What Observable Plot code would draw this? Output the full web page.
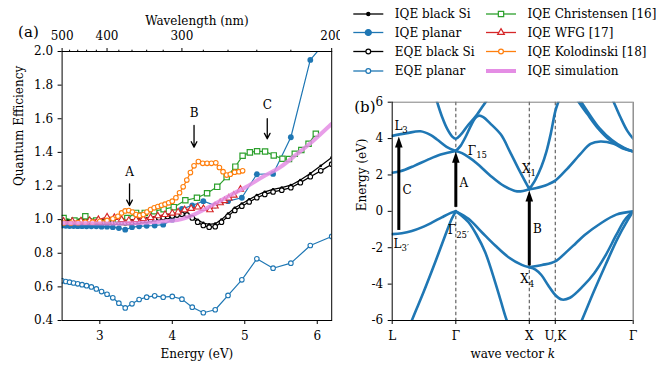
<!DOCTYPE html>
<html><head><meta charset="utf-8">
<script src="https://cdn.jsdelivr.net/npm/d3@7"></script>
<script src="https://cdn.jsdelivr.net/npm/@observablehq/plot@0.6"></script>
<style>
body{margin:0;background:#fff;}
#fig{position:relative;width:656px;height:371px;overflow:hidden;font-family:"DejaVu Serif",serif;background:#fff;}
#pa{position:absolute;left:0;top:0;width:340px;height:371px;}
#pb{position:absolute;left:340px;top:0;width:316px;height:371px;}
#legend{position:absolute;left:340px;top:0;width:316px;height:85px;}
</style></head>
<body><div id="fig"><div id="pa"></div><div id="pb"></div><div id="legend"></div></div>
<script>
const hc = 1239.84;

// ---------------- Panel (a) data ----------------
const lambda10 = [500,490,480,470,460,450,440,430,420,410,400,390,380,370,360,350,340,330,320,310,300,290,280,270,260,250,240,230,220,210,200];
const iqePlanar = [0.965,0.963,0.962,0.962,0.961,0.961,0.960,0.960,0.960,0.958,0.958,0.955,0.950,0.940,0.955,0.960,0.963,0.965,0.970,1.000,1.064,1.084,1.110,1.084,1.110,1.130,1.270,1.272,1.490,1.950,2.100];
const eqePlanar = [0.636,0.632,0.628,0.623,0.618,0.613,0.607,0.600,0.588,0.572,0.556,0.535,0.503,0.475,0.499,0.525,0.539,0.547,0.539,0.543,0.527,0.479,0.446,0.464,0.549,0.642,0.767,0.711,0.741,0.846,0.900];

const lambda5 = [500,495,490,485,480,475,470,465,460,455,450,445,440,435,430,425,420,415,410,405,400,395,390,385,380,375,370,365,360,355,350,345,340,335,330,325,320,315,310,305,300,295,290,285,280,275,270,265,260,255,250,245,240,235,230,225,220,215,210,205,200];
const iqeBlackSi = [0.995,0.995,0.995,0.995,0.995,0.995,0.995,0.995,0.995,0.995,0.995,0.995,0.995,0.995,0.995,0.995,0.995,0.995,0.995,0.995,0.995,0.995,0.995,0.995,
  0.994,0.993,0.992,0.993,0.995,0.997,1.0,1.003,1.006,1.01,1.014,1.018,1.022,1.026,1.03,1.035,1.04,1.036,1.02,0.998,0.98,0.972,0.976,1.0,1.035,1.07,1.095,1.12,1.145,1.165,1.18,1.19,1.205,1.235,1.275,1.32,1.37];
const eqeBlackSi = [0.986,0.986,0.986,0.985,0.985,0.985,0.985,0.985,0.985,0.985,0.985,0.985,0.985,0.985,0.985,0.985,0.985,0.985,0.985,0.985,0.985,0.985,0.985,0.985,
  0.985,0.983,0.982,0.983,0.985,0.987,0.99,0.993,0.996,1.0,1.004,1.009,1.013,1.018,1.022,1.027,1.032,1.028,1.01,0.985,0.965,0.955,0.958,0.985,1.02,1.055,1.08,1.105,1.13,1.15,1.165,1.175,1.19,1.22,1.255,1.29,1.33];

const christensenE = [2.50,2.65,2.80,2.95,3.10,3.25,3.38,3.50,3.62,3.75,3.88,4.02,4.18,4.34,4.48,4.62,4.75,4.87,4.97,5.07,5.17,5.28,5.40,5.52,5.61,5.69,5.78,5.88,5.98];
const christensenQE = [1.01,0.995,1.02,0.995,0.995,1.0,1.01,1.04,1.04,1.05,1.062,1.074,1.115,1.13,1.157,1.195,1.253,1.315,1.38,1.40,1.407,1.405,1.382,1.362,1.36,1.392,1.414,1.451,1.511];

const wfgE = [2.50,2.62,2.74,2.86,2.98,3.10,3.20,3.30,3.40,3.50,3.60,3.70,3.80,3.90,4.00,4.08,4.17,4.26,4.35,4.43,4.52,4.59,4.66,4.72,4.78,4.85,4.94];
const wfgQE = [0.99,0.99,0.992,0.995,1.0,1.015,1.012,1.0,0.995,1.0,1.005,1.012,1.022,1.03,1.038,1.045,1.058,1.066,1.074,1.065,1.058,1.08,1.10,1.112,1.128,1.145,1.18];

const kolodinskiE = [2.50,2.60,2.70,2.80,2.90,3.00,3.10,3.18,3.25,3.30,3.35,3.40,3.45,3.50,3.55,3.60,3.65,3.70,3.75,3.80,3.85,3.90,3.95,4.00,4.05,4.10,4.15,4.20,4.25,4.30,4.36,4.42,4.48,4.54,4.60,4.65,4.70,4.75,4.80,4.86,4.92,4.97];
const kolodinskiQE = [0.98,0.98,0.982,0.985,0.985,0.99,0.995,1.005,1.02,1.04,1.052,1.054,1.045,1.03,1.025,1.03,1.045,1.06,1.07,1.078,1.085,1.092,1.10,1.11,1.13,1.16,1.195,1.235,1.28,1.32,1.345,1.335,1.335,1.335,1.338,1.31,1.285,1.265,1.27,1.282,1.285,1.29];

const simulationE = [2.48,2.8,3.1,3.4,3.7,3.9,4.1,4.3,4.57,4.8,5.03,5.25,5.49,5.72,5.95,6.2];
const simulationQE = [0.98,0.978,0.977,0.978,0.984,0.99,1.0,1.03,1.09,1.145,1.197,1.255,1.312,1.39,1.471,1.57];

const energyTicks = [3,4,5,6];
const qeTicks = [0.4,0.6,0.8,1.0,1.2,1.4,1.6,1.8,2.0];
const wavelengthTicks = [500,400,300,200];
const wavelengthMinor = [480,460,440,420,380,360,340,320,280,260,240,220];
const transitionsA = [
  {label:"A", E:3.41, top:1.213, tip:1.084, textQE:1.282},
  {label:"B", E:4.30, top:1.56, tip:1.431, textQE:1.633},
  {label:"C", E:5.31, top:1.60, tip:1.481, textQE:1.679}
];

// ---------------- Panel (b) data ----------------
const kPoints = [0, 0.866, 1.866, 2.2196, 3.2803];
const kLabels = ["L","Γ","X","U,K","Γ"];
const energyTicksB = [-6,-4,-2,0,2,4,6];
// valence bands [k, E]
const vbL3 = [[0,-1.25],[0.131,-1.2],[0.267,-1.08],[0.403,-0.88],[0.539,-0.62],[0.675,-0.33],[0.79,-0.1],[0.866,0]];
const vbL1 = [[0.15,-7.3],[0.267,-6.0],[0.426,-4.45],[0.585,-2.8],[0.721,-1.33],[0.811,-0.41],[0.866,0]];
const vbX4 = [[0.866,0],[1.039,-0.41],[1.22,-1.15],[1.402,-1.88],[1.583,-2.52],[1.764,-2.94],[1.866,-3.07]];
const vbX1 = [[0.866,0],[0.95,-0.25],[1.039,-0.6],[1.15,-1.3],[1.266,-2.25],[1.402,-3.9],[1.48,-4.95],[1.56,-6.0],[1.68,-7.1],[1.866,-7.8]];
const vbS1 = [[1.866,-3.07],[2.04,-2.95],[2.2196,-2.75],[2.38,-2.2],[2.5,-1.75],[2.62,-1.3],[2.83,-0.68],[3.05,-0.18],[3.2803,0]];
const vbS2 = [[1.866,-3.07],[1.95,-3.2],[2.03,-3.5],[2.12,-4.05],[2.2196,-4.6],[2.31,-4.85],[2.42,-4.75],[2.6,-4.1],[2.75,-3.4],[2.9,-2.45],[3.05,-1.3],[3.17,-0.45],[3.2803,0]];
const vbS3 = [[2.427,-7.4],[2.58,-6.0],[2.74,-4.45],[2.903,-2.95],[3.067,-1.5],[3.203,-0.5],[3.2803,0]];
// conduction bands [k, E]
const cbL1 = [[0,2.12],[0.11,2.2],[0.3,2.5],[0.48,2.83],[0.66,3.12],[0.866,3.32]];
const cbL3 = [[0,4.15],[0.2,4.3],[0.385,4.4],[0.52,4.2],[0.61,3.95],[0.74,3.55],[0.866,3.32]];
const cbG2 = [[0.535,7.0],[0.612,6.0],[0.681,5.17],[0.749,4.53],[0.817,4.11],[0.866,3.99],[0.93,4.2],[1.021,4.68],[1.111,5.1],[1.16,5.35],[1.202,5.6],[1.27,6.0],[1.365,6.6]];
const cbD5 = [[0.866,3.32],[0.93,3.6],[1.0,4.1],[1.07,4.7],[1.13,5.12],[1.18,5.26],[1.24,5.18],[1.33,4.85],[1.48,4.22],[1.6,3.3],[1.73,2.25],[1.866,1.22]];
const cbD1 = [[0.866,3.32],[0.95,3.2],[1.04,2.98],[1.15,2.65],[1.34,1.95],[1.52,1.4],[1.70,1.1],[1.866,1.22]];
const cbS1 = [[1.866,1.22],[1.95,1.27],[2.04,1.36],[2.13,1.5],[2.2196,1.69],[2.382,2.34],[2.563,3.16],[2.699,3.71],[2.835,3.84],[3.016,3.71],[3.152,3.44],[3.2803,3.29]];
const cbS2 = [[1.866,1.22],[1.95,1.75],[2.03,2.45],[2.1,3.3],[2.16,4.3],[2.2196,5.5],[2.26,6.0],[2.33,6.8]];
const cbS3 = [[2.427,6.7],[2.54,6.0],[2.654,5.36],[2.79,4.62],[2.971,3.89],[3.152,3.47],[3.2803,3.29]];
const cbS4 = [[2.46,6.7],[2.575,6.0],[2.69,5.3],[2.82,4.58],[2.99,3.92],[3.152,3.5],[3.2803,3.29]];
const cbS5 = [[2.917,6.9],[3.016,6.0],[3.107,5.17],[3.198,4.44],[3.2803,3.99]];
const bands = [vbL3, vbL1, vbX4, vbX1, vbS1, vbS2, vbS3, cbL1, cbL3, cbG2, cbD5, cbD1, cbS1, cbS2, cbS3, cbS4, cbS5];

const transitionsB = [
  {label:"C", k:0.09, from:-1.05, tip:4.12, lk:0.204, lE:1.14},
  {label:"A", k:0.866, from:0.22, tip:3.27, lk:0.975, lE:1.56},
  {label:"B", k:1.866, from:-3.0, tip:1.15, lk:1.978, lE:-1.0}
];
const pointLabels = [
  {t:"L|3", k:0.03, E:4.69},
  {t:"Γ|15", k:1.029, E:3.33},
  {t:"X|1", k:1.767, E:2.33},
  {t:"X|4", k:1.742, E:-3.73},
  {t:"L|3′", k:0.018, E:-1.79},
  {t:"Γ|25′", k:0.757, E:-1.06}
];

// ---------------- helpers ----------------
const pts = (xs, ys) => xs.map((x, i) => ({x, y: ys[i]}));
const ptsL = (ls, ys) => ls.map((l, i) => ({x: hc / l, y: ys[i]}));
const font = {fontFamily: "DejaVu Serif, serif", fontSize: "12px", color: "black", background: "white", overflow: "visible"};

const blue = "#1f77b4", orange = "#ff7f0e", green = "#2ca02c", red = "#d62728", pink = "#e48de4";

const dIqeB = ptsL(lambda5, iqeBlackSi), dEqeB = ptsL(lambda5, eqeBlackSi);
const dIqeP = ptsL(lambda10, iqePlanar), dEqeP = ptsL(lambda10, eqePlanar);
const dChr = pts(christensenE, christensenQE), dWfg = pts(wfgE, wfgQE), dKol = pts(kolodinskiE, kolodinskiQE), dSim = pts(simulationE, simulationQE);

const lineOpts = (c) => ({x: "x", y: "y", stroke: c, strokeWidth: 1.2, clip: true});

const pa = Plot.plot({
  width: 340, height: 371,
  marginLeft: 61.6, marginRight: 8.8, marginTop: 51, marginBottom: 51,
  x: {type: "linear", domain: [hc / 500, hc / 200]},
  y: {type: "linear", domain: [0.4, 2.0]},
  style: font,
  marks: [
    Plot.axisX({anchor: "bottom", ticks: energyTicks, tickFormat: d => String(d), tickSize: 4, tickPadding: 7, label: null}),
    Plot.axisX({anchor: "top", ticks: wavelengthTicks.map(l => hc / l), tickFormat: d => String(Math.round(hc / d)), tickSize: 4, tickPadding: 8, label: null}),
    Plot.axisX({anchor: "top", ticks: wavelengthMinor.map(l => hc / l), tickFormat: () => "", tickSize: 2.3, label: null}),
    Plot.axisY({anchor: "left", ticks: qeTicks, tickFormat: d => d.toFixed(1), tickSize: 4, tickPadding: 5, label: null}),
    // IQE black Si
    Plot.line(dIqeB, lineOpts("black")),
    Plot.dot(dIqeB, {x: "x", y: "y", r: 1.4, fill: "black", clip: true}),
    // IQE planar
    Plot.line(dIqeP, lineOpts(blue)),
    Plot.dot(dIqeP, {x: "x", y: "y", r: 2.9, fill: blue, clip: true}),
    // EQE black Si
    Plot.line(dEqeB, lineOpts("black")),
    Plot.dot(dEqeB, {x: "x", y: "y", r: 2.3, fill: "white", stroke: "black", strokeWidth: 1.1, clip: true}),
    // EQE planar
    Plot.line(dEqeP, lineOpts(blue)),
    Plot.dot(dEqeP, {x: "x", y: "y", r: 2.3, fill: "white", stroke: blue, strokeWidth: 1.1, clip: true}),
    // Christensen
    Plot.line(dChr, lineOpts(green)),
    Plot.dot(dChr, {x: "x", y: "y", symbol: "square", r: 3.0, fill: "white", stroke: green, strokeWidth: 1.2, clip: true}),
    // WFG
    Plot.line(dWfg, lineOpts(red)),
    Plot.dot(dWfg, {x: "x", y: "y", symbol: "triangle", r: 2.4, fill: "white", stroke: red, strokeWidth: 1.1, clip: true}),
    // Kolodinski
    Plot.line(dKol, lineOpts(orange)),
    Plot.dot(dKol, {x: "x", y: "y", r: 2.3, fill: "white", stroke: orange, strokeWidth: 1.1, clip: true}),
    // simulation
    Plot.line(dSim, {x: "x", y: "y", stroke: pink, strokeWidth: 4, strokeOpacity: 0.85, curve: "monotone-x", clip: true}),
    // transition arrows
    Plot.arrow(transitionsA, {x1: "E", x2: "E", y1: "top", y2: "tip", stroke: "black", strokeWidth: 1.3, headLength: 7, headAngle: 55}),
    Plot.text(transitionsA, {x: "E", y: "textQE", text: "label", fontSize: 12}),
    Plot.frame({stroke: "black", strokeWidth: 1}),
    // titles
    Plot.text(["Energy (eV)"], {text: d => d, frameAnchor: "bottom", dy: 37, fontSize: 12}),
    Plot.text(["Wavelength (nm)"], {text: d => d, frameAnchor: "top", dy: -35, fontSize: 12}),
    Plot.text(["Quantum Efficiency"], {text: d => d, frameAnchor: "left", dx: -43, rotate: -90, fontSize: 12}),
    Plot.text(["(a)"], {text: d => d, frameAnchor: "top-left", dx: -44, dy: -25, fontSize: 15})
  ]
});
document.getElementById("pa").appendChild(pa);

const arrowHead = {
  draw(ctx) { ctx.moveTo(0, 0); ctx.lineTo(3.8, 11); ctx.lineTo(-3.8, 11); ctx.closePath(); }
};

const pb = Plot.plot({
  width: 316, height: 371,
  marginLeft: 51.7, marginRight: 23.3, marginTop: 101.7, marginBottom: 51,
  x: {type: "linear", domain: [0, 3.2803]},
  y: {type: "linear", domain: [-6, 6]},
  style: font,
  marks: [
    Plot.axisX({anchor: "bottom", ticks: kPoints, tickFormat: d => kLabels[kPoints.indexOf(d)], tickSize: 4, tickPadding: 7, label: null}),
    Plot.axisY({anchor: "left", ticks: energyTicksB, tickFormat: d => String(d), tickSize: 4, tickPadding: 5, label: null}),
    Plot.ruleX(kPoints.slice(1, 4), {stroke: "#555", strokeWidth: 1.1, strokeDasharray: "3.5,2.5"}),
    ...bands.map(b => Plot.line(b, {x: d => d[0], y: d => d[1], curve: "catmull-rom", stroke: blue, strokeWidth: 2.6, clip: true})),
    Plot.ruleX(transitionsB, {x: "k", y1: "from", y2: d => d.tip - 0.35, stroke: "black", strokeWidth: 3}),
    Plot.dot(transitionsB, {x: "k", y: "tip", symbol: arrowHead, r: 5, fill: "black", stroke: "none"}),
    Plot.text(transitionsB, {x: "lk", y: "lE", text: "label", fontSize: 12}),
    Plot.text(pointLabels, {x: "k", y: "E", text: "t", textAnchor: "start", fontSize: 12}),
    Plot.ruleY([6], {stroke: "#808080", strokeWidth: 1}),
    Plot.ruleX([3.2803], {stroke: "#808080", strokeWidth: 1.3}),
    Plot.ruleX([0], {stroke: "black", strokeWidth: 1}),
    Plot.ruleY([-6], {stroke: "black", strokeWidth: 1}),
    Plot.text(["wave vector ~k"], {text: d => d, frameAnchor: "bottom", dy: 37, fontSize: 12}),
    Plot.text(["Energy (eV)"], {text: d => d, frameAnchor: "left", dx: -30, rotate: -90, fontSize: 12}),
    Plot.text(["(b)"], {text: d => d, frameAnchor: "top-left", dx: -38, dy: -1, fontSize: 15})
  ]
});
document.getElementById("pb").appendChild(pb);

// subscripts / italics as real text
const NS = "http://www.w3.org/2000/svg";
document.querySelectorAll("#pb text").forEach(t => {
  const s = t.textContent;
  if (s.includes("|")) {
    const [base, sub] = s.split("|");
    t.textContent = base;
    const ts = document.createElementNS(NS, "tspan");
    ts.setAttribute("font-size", "8.5");
    ts.setAttribute("dy", "3.5");
    ts.textContent = sub;
    t.appendChild(ts);
  } else if (s.includes("~")) {
    const [a, b] = s.split("~");
    t.textContent = a;
    const ts = document.createElementNS(NS, "tspan");
    ts.setAttribute("font-style", "italic");
    ts.textContent = b;
    t.appendChild(ts);
  }
});

// legend
const legendItems = [
  {label: "IQE black Si", color: "black", sym: d3.symbolCircle, r: 1.6, fill: "black", col: 0, row: 0},
  {label: "IQE planar", color: blue, sym: d3.symbolCircle, r: 3, fill: blue, col: 0, row: 1},
  {label: "EQE black Si", color: "black", sym: d3.symbolCircle, r: 2.4, fill: "white", col: 0, row: 2},
  {label: "EQE planar", color: blue, sym: d3.symbolCircle, r: 2.4, fill: "white", col: 0, row: 3},
  {label: "IQE Christensen [16]", color: green, sym: d3.symbolSquare, r: 3, fill: "white", col: 1, row: 0},
  {label: "IQE WFG [17]", color: red, sym: d3.symbolTriangle, r: 2.5, fill: "white", col: 1, row: 1},
  {label: "IQE Kolodinski [18]", color: orange, sym: d3.symbolCircle, r: 2.4, fill: "white", col: 1, row: 2},
  {label: "IQE simulation", color: pink, sym: null, col: 1, row: 3}
];
const colX = [13.3, 146], rowY = [14, 32.5, 51.5, 71];
const lg = d3.select("#legend").append("svg").attr("width", 316).attr("height", 85)
  .style("font-family", "DejaVu Serif, serif").style("font-size", "12px");
legendItems.forEach(it => {
  const x0 = colX[it.col], y0 = rowY[it.row];
  const g = lg.append("g").attr("transform", `translate(${x0},${y0})`);
  g.append("line").attr("x1", 0).attr("x2", 30).attr("y1", 0).attr("y2", 0)
    .attr("stroke", it.color).attr("stroke-width", it.sym ? 1.3 : 4);
  if (it.sym) {
    g.append("path").attr("d", d3.symbol(it.sym, Math.PI * it.r * it.r)())
      .attr("transform", "translate(15,0)").attr("fill", it.fill).attr("stroke", it.color).attr("stroke-width", 1.2);
  }
  g.append("text").attr("x", 41.5).attr("y", 0).attr("dy", "0.35em").attr("fill", "black").text(it.label);
});
</script>
</body></html>
